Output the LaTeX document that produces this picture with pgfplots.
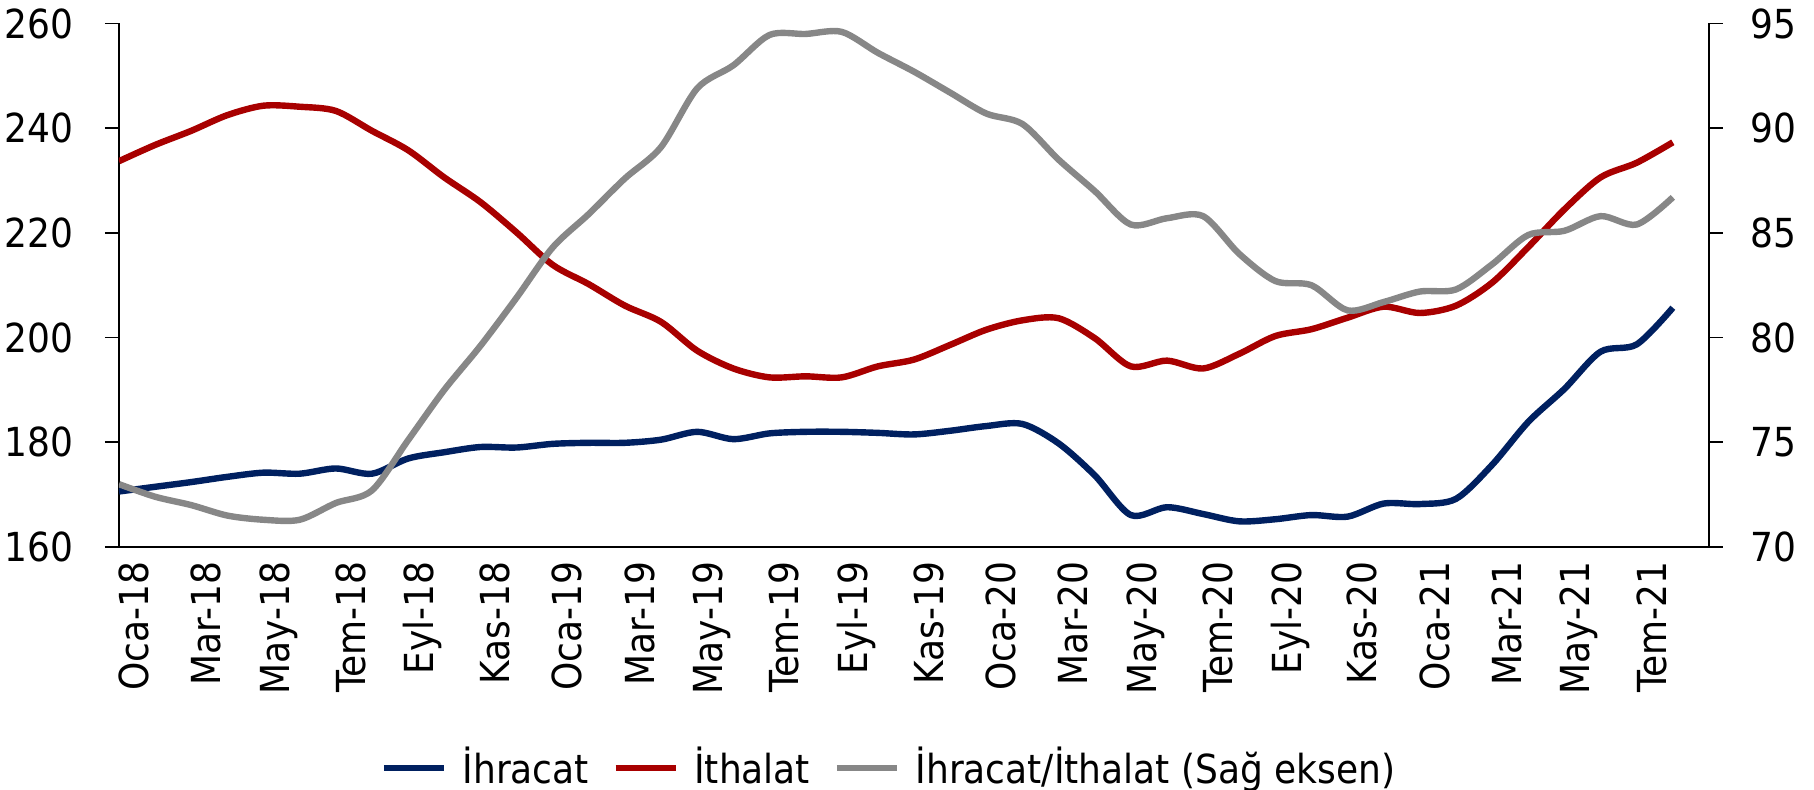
\documentclass[border=0pt]{standalone}
\usepackage{fontspec}
\setmainfont{DejaVu Sans Condensed}
\usepackage{pgfplots}
\usepackage{pgfplotstable}
\pgfplotsset{compat=1.18}
\definecolor{cblue}{HTML}{002060}
\definecolor{cred}{HTML}{A80000}
\definecolor{cgray}{HTML}{878787}
\pgfplotstableread{
i blue red gray
0 170.6 233.7 73.0
1 171.5 236.8 72.4
2 172.4 239.5 72.0
3 173.4 242.5 71.5
4 174.2 244.3 71.3
5 174.0 244.1 71.3
6 175.0 243.3 72.1
7 174.0 239.5 72.7
8 176.9 235.8 75.1
9 178.1 230.6 77.5
10 179.1 225.9 79.6
11 179.0 220.1 81.9
12 179.7 213.9 84.3
13 179.9 210.2 85.9
14 179.9 206.1 87.6
15 180.5 203.0 89.1
16 182.0 197.5 91.9
17 180.6 194.1 93.0
18 181.7 192.4 94.45
19 182.0 192.6 94.5
20 182.0 192.4 94.6
21 181.8 194.5 93.6
22 181.5 195.8 92.7
23 182.2 198.6 91.7
24 183.1 201.5 90.7
25 183.5 203.3 90.2
26 179.8 203.7 88.5
27 173.7 199.9 87.0
28 166.1 194.5 85.4
29 167.6 195.6 85.7
30 166.3 194.1 85.8
31 164.9 196.9 84.0
32 165.3 200.3 82.7
33 166.1 201.6 82.5
34 165.8 203.8 81.3
35 168.3 205.9 81.7
36 168.2 204.7 82.2
37 169.2 206.1 82.3
38 175.7 210.5 83.5
39 183.9 217.3 84.9
40 190.2 224.5 85.1
41 197.3 230.6 85.8
42 198.7 233.4 85.4
43 205.7 237.3 86.7
}\datatable
\begin{document}
\begin{tikzpicture}
\path[use as bounding box] (-29.75pt,-60.75pt) rectangle (423.75pt,136.75pt);
\pgfplotsset{
  every axis/.append style={
    scale only axis, width=397.5pt, height=130.875pt,
    xmin=0, xmax=44,
    /pgf/number format/assume math mode=true,
    tick label style={font=\fontsize{10}{12}\selectfont},
    tick align=outside, major tick length=3.5pt,
    axis line style={-, line width=0.45pt, black},
    ytick style={line width=0.45pt, black},
    xtick style={draw=none},
  },
}
\begin{axis}[
  axis x line*=bottom, axis y line*=left,
  ymin=160, ymax=260, ytick={160,180,...,260},
  xtick={0,2,...,42},
  xticklabels={Oca-18,Mar-18,May-18,Tem-18,Eyl-18,Kas-18,Oca-19,Mar-19,May-19,Tem-19,Eyl-19,Kas-19,Oca-20,Mar-20,May-20,Tem-20,Eyl-20,Kas-20,Oca-21,Mar-21,May-21,Tem-21},
  xticklabel style={rotate=90, anchor=east, inner sep=0pt, yshift=-3.7pt},
  yticklabel style={anchor=east, inner sep=0pt, xshift=-7.75pt},
]
\addplot[cblue, line width=1.6pt, smooth, tension=0.5] table[x=i, y=blue] {\datatable};
\addplot[cred, line width=1.6pt, smooth, tension=0.5] table[x=i, y=red] {\datatable};
\end{axis}
\begin{axis}[
  axis x line=none, axis y line*=right,
  ymin=70, ymax=95, ytick={70,75,...,95},
  yticklabel style={anchor=west, inner sep=0pt, xshift=6.75pt},
  legend style={at={(0.4837,-0.422)}, anchor=center, draw=none, fill=none,
    font=\fontsize{10}{12}\selectfont,
    nodes={inner sep=0pt},
    /tikz/every odd column/.append style={column sep=4pt},
    /tikz/every even column/.append style={column sep=6pt}},
  legend columns=-1,
  legend image code/.code={\draw[#1, line width=1.4pt] (0pt,0pt) -- (15pt,0pt);},
]
\addlegendimage{cblue}
\addlegendentry{İhracat}
\addlegendimage{cred}
\addlegendentry{İthalat}
\addplot[cgray, line width=1.6pt, smooth, tension=0.5] table[x=i, y=gray] {\datatable};
\addlegendentry{İhracat/İthalat (Sağ eksen)}
\end{axis}
\end{tikzpicture}
\end{document}
